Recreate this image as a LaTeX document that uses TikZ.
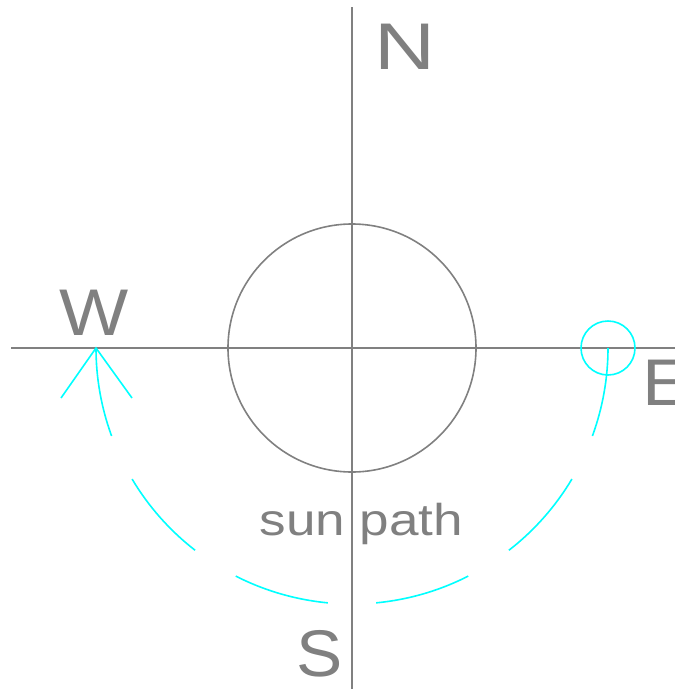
\documentclass[tikz,border=0pt]{standalone}
\usepackage{fontspec}
\setmainfont{Liberation Sans}
\definecolor{axisgray}{RGB}{128,128,128}
\definecolor{suncyan}{RGB}{0,255,255}
\begin{document}
\begin{tikzpicture}[x=1pt,y=-1pt,
  axis/.style={draw=axisgray,line width=1.6pt},
  path arc/.style={draw=suncyan,line width=1.6pt},
  bigtext/.style={text=axisgray,inner sep=0pt,font=\fontsize{66}{66}\selectfont},
  midtext/.style={text=axisgray,inner sep=0pt,font=\fontsize{44.6}{44.6}\selectfont}]
\useasboundingbox (0,0) rectangle (675,689);
% axes
\coordinate (O) at (352,348);
\coordinate (ntop) at (352,7);
\coordinate (sbot) at (352,689);
\coordinate (wend) at (11,348);
\coordinate (eend) at (675,348);
\draw[axis] (ntop) -- (sbot);
\draw[axis] (wend) -- (eend);
% earth circle
\node[draw=axisgray,line width=1.6pt,circle,minimum size=248pt,inner sep=0pt] (globe) at (O) {};
% sun path dashed arc
\foreach \a/\b in {0/20.1, 30.8/52.2, 63/84.6, 95.4/117, 127.8/149.2, 159.9/180}{
  \draw[path arc] (O) ++(\a:256) arc[start angle=\a,end angle=\b,radius=256];
}
% sun
\node[draw=suncyan,line width=1.6pt,circle,minimum size=54pt,inner sep=0pt] (sun) at (608,348) {};
% arrow head at W
\coordinate (wpt) at (96,348);
\coordinate (aw1) at (61,398);
\coordinate (aw2) at (132,398);
\draw[path arc] (aw1) -- (wpt) -- (aw2);
% labels
\node[bigtext,anchor=base] (lN) at (405,69) {\scalebox{1.28}[1]{N}};
\node[bigtext,anchor=base] (lW) at (94,335) {\scalebox{1.11}[1]{W}};
\node[bigtext,anchor=base west] (lE) at (642,405) {\scalebox{1.1}[1]{E}};
\node[bigtext,anchor=base] (lS) at (320,676) {\scalebox{1.05}[1]{S}};
\node[midtext,anchor=base] (lsun) at (361.5,535) {\scalebox{1.19}[1]{sun path}};
\end{tikzpicture}
\end{document}
